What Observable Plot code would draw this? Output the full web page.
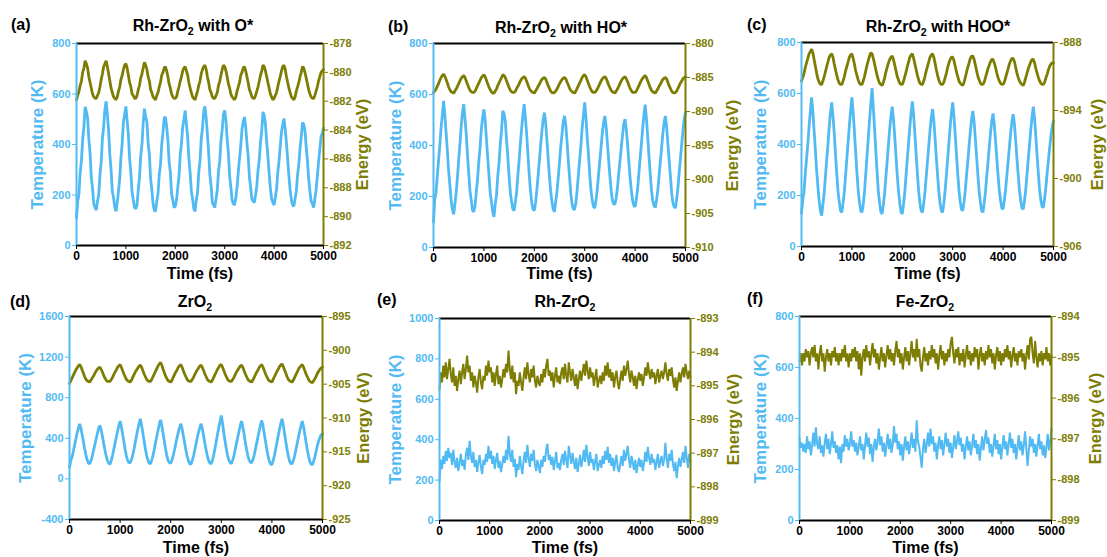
<!DOCTYPE html>
<html><head><meta charset="utf-8">
<script src="https://cdn.jsdelivr.net/npm/d3@7"></script>
<script src="https://cdn.jsdelivr.net/npm/@observablehq/plot@0.6"></script>
<style>
body{margin:0;background:#fff}
#root{position:relative;width:1107px;height:557px;overflow:hidden;background:#fff;font-family:"Liberation Sans",Arial,sans-serif}
#root svg{position:absolute;overflow:visible}
.t{position:absolute;font-weight:bold;font-size:16px;white-space:nowrap;transform:translate(-50%,-50%);line-height:1;color:#000}
.t span.s{font-size:0.66em;position:relative;top:0.35em}
.lab{position:absolute;font-weight:bold;font-size:16px;transform:translate(0,-50%);line-height:1;color:#000}
</style></head><body><div id="root"></div>
<script>
// ---------- data ----------
const timeStepFs = 25;
const timeTicks = [0, 1000, 2000, 3000, 4000, 5000];
const panelLetters = ["(a)", "(b)", "(c)", "(d)", "(e)", "(f)"];
const panelTitles = ["Rh-ZrO2 with O*", "Rh-ZrO2 with HO*", "Rh-ZrO2 with HOO*", "ZrO2", "Rh-ZrO2", "Fe-ZrO2"];
const tempDomains = [[0, 800], [0, 800], [0, 800], [-400, 1600], [0, 1000], [0, 800]];
const tempTicks = [
  [0, 200, 400, 600, 800], [0, 200, 400, 600, 800], [0, 200, 400, 600, 800],
  [-400, 0, 400, 800, 1200, 1600], [0, 200, 400, 600, 800, 1000], [0, 200, 400, 600, 800]
];
const energyDomains = [[-892, -878], [-910, -880], [-906, -888], [-925, -895], [-899, -893], [-899, -894]];
const energyTicks = [
  [-892, -890, -888, -886, -884, -882, -880, -878],
  [-910, -905, -900, -895, -890, -885, -880],
  [-906, -900, -894, -888],
  [-925, -920, -915, -910, -905, -900, -895],
  [-899, -898, -897, -896, -895, -894, -893],
  [-899, -898, -897, -896, -895, -894]
];

const tempA = [
110,175,205,290,335,420,470,549,530,505,420,365,270,225,165,150,
140,175,200,280,330,425,470,540,571,520,455,360,300,215,190,150,
135,170,215,265,350,405,490,520,551,495,440,345,290,210,180,150,
145,160,220,270,355,400,485,542,510,490,405,360,265,220,165,140,
135,175,205,280,320,400,445,505,509,470,420,330,290,205,180,150,
155,180,230,275,360,405,470,500,535,480,430,345,290,215,185,145,
135,180,210,290,335,420,465,530,551,505,440,370,280,235,170,160,
150,185,220,295,335,415,460,520,535,495,420,365,275,230,180,165,
160,190,230,290,345,395,460,490,509,470,405,355,270,230,185,175,
170,200,235,300,340,410,455,529,515,480,410,350,285,225,185,170,
160,190,225,290,335,395,450,480,503,460,405,340,275,220,180,160,
155,185,215,280,320,385,430,487,480,455,390,335,265,215,175,165,
150,185,220,275,330,380,430,445,465];
const energyA = [
-881.9,-881.6,-881.3,-880.9,-880.6,-880.0,-879.7,-879.2,-879.4,-879.7,-880.3,-880.7,-881.1,-881.5,-881.7,-881.8,
-881.8,-881.6,-881.4,-881.0,-880.5,-880.1,-879.6,-879.4,-879.2,-879.6,-880.1,-880.6,-881.1,-881.4,-881.7,-881.8,
-881.9,-881.7,-881.3,-881.0,-880.5,-880.2,-879.8,-879.5,-879.4,-879.7,-880.2,-880.7,-881.0,-881.5,-881.6,-881.8,
-881.8,-881.6,-881.2,-880.9,-880.4,-880.1,-879.7,-879.3,-879.5,-879.8,-880.3,-880.6,-881.2,-881.4,-881.7,-881.8,
-881.9,-881.6,-881.4,-881.0,-880.7,-880.2,-880.0,-879.7,-879.6,-879.9,-880.3,-880.8,-881.1,-881.5,-881.7,-881.8,
-881.8,-881.7,-881.3,-881.0,-880.6,-880.3,-879.9,-879.7,-879.6,-879.9,-880.2,-880.7,-881.1,-881.4,-881.7,-881.8,
-881.9,-881.6,-881.3,-880.9,-880.6,-880.1,-879.8,-879.6,-879.5,-879.8,-880.3,-880.7,-881.2,-881.4,-881.7,-881.8,
-881.8,-881.6,-881.4,-880.9,-880.6,-880.2,-879.8,-879.5,-879.6,-879.9,-880.3,-880.8,-881.1,-881.5,-881.7,-881.8,
-881.9,-881.7,-881.3,-881.0,-880.7,-880.2,-880.0,-879.7,-879.6,-879.9,-880.3,-880.7,-881.2,-881.4,-881.7,-881.8,
-881.8,-881.6,-881.3,-881.0,-880.6,-880.2,-879.9,-879.5,-879.6,-879.9,-880.3,-880.7,-881.1,-881.5,-881.7,-881.9,
-881.8,-881.6,-881.4,-881.0,-880.6,-880.3,-879.9,-879.6,-879.5,-879.8,-880.3,-880.7,-881.1,-881.4,-881.7,-881.8,
-881.9,-881.7,-881.3,-881.0,-880.7,-880.3,-880.0,-879.6,-879.7,-880.0,-880.4,-880.8,-881.2,-881.5,-881.7,-881.8,
-881.8,-881.6,-881.3,-881.0,-880.6,-880.3,-880.0,-879.9,-879.8];

const tempB = [
100,190,215,280,340,400,470,520,575,520,450,380,300,245,185,150,
130,170,215,275,345,405,475,530,562,505,445,360,290,220,185,145,
140,165,220,270,340,395,465,510,542,500,425,355,285,215,180,140,
120,170,205,280,330,405,460,536,525,495,420,355,280,215,180,150,
145,180,220,285,345,410,470,520,562,505,440,360,285,220,175,150,
145,175,225,280,340,400,455,500,529,490,425,350,280,220,180,150,
140,180,220,275,335,395,445,495,516,480,415,340,275,210,170,150,
150,175,225,285,345,400,470,520,569,510,430,365,285,225,185,160,
155,185,230,285,340,395,450,490,516,475,410,345,280,225,185,170,
170,195,235,290,340,390,440,485,503,465,405,340,275,225,185,165,
160,190,230,290,350,405,465,520,560,505,435,360,290,225,185,165,
157,185,225,280,335,390,445,490,516,475,410,345,280,215,175,160,
155,190,235,295,350,405,460,505,529];
const energyB = [
-887.2,-887.0,-886.7,-886.3,-885.9,-885.4,-885.0,-884.7,-884.5,-884.8,-885.3,-885.8,-886.4,-886.8,-887.1,-887.2,
-887.3,-887.0,-886.7,-886.3,-885.9,-885.5,-885.1,-884.9,-884.7,-885.0,-885.5,-886.0,-886.5,-886.9,-887.1,-887.2,
-887.2,-887.0,-886.6,-886.2,-885.8,-885.4,-885.0,-884.8,-884.6,-884.9,-885.4,-885.9,-886.4,-886.8,-887.1,-887.3,
-887.3,-887.0,-886.7,-886.2,-885.8,-885.4,-885.0,-884.6,-884.7,-885.0,-885.5,-886.0,-886.5,-886.9,-887.1,-887.2,
-887.2,-887.0,-886.6,-886.3,-885.9,-885.5,-885.2,-885.0,-884.9,-885.1,-885.6,-886.1,-886.6,-886.9,-887.1,-887.2,
-887.3,-887.0,-886.7,-886.3,-886.0,-885.6,-885.3,-885.1,-885.0,-885.2,-885.7,-886.2,-886.6,-887.0,-887.2,-887.3,
-887.2,-887.0,-886.7,-886.3,-885.9,-885.6,-885.3,-885.1,-885.0,-885.2,-885.7,-886.1,-886.6,-886.9,-887.1,-887.2,
-887.3,-887.0,-886.6,-886.2,-885.8,-885.4,-885.0,-884.7,-884.6,-884.9,-885.4,-885.9,-886.4,-886.8,-887.1,-887.2,
-887.2,-887.0,-886.7,-886.3,-885.9,-885.5,-885.2,-885.0,-884.9,-885.1,-885.6,-886.1,-886.5,-886.9,-887.1,-887.2,
-887.3,-887.0,-886.7,-886.3,-885.9,-885.5,-885.2,-885.0,-884.9,-885.2,-885.6,-886.1,-886.6,-886.9,-887.2,-887.2,
-887.2,-887.0,-886.6,-886.2,-885.8,-885.4,-885.1,-884.9,-884.7,-885.0,-885.5,-886.0,-886.5,-886.9,-887.1,-887.2,
-887.3,-887.0,-886.7,-886.3,-886.0,-885.6,-885.3,-885.1,-885.0,-885.2,-885.7,-886.2,-886.6,-887.0,-887.2,-887.3,
-887.2,-887.0,-886.6,-886.2,-885.8,-885.5,-885.2,-885.0,-884.9];

const tempC = [
130,185,215,285,345,400,470,530,585,530,455,380,300,235,180,140,
121,165,210,275,340,400,470,525,565,510,445,360,285,215,175,140,
134,170,215,280,345,410,475,535,585,525,450,370,290,220,175,140,
134,165,215,285,355,425,495,560,621,545,460,375,290,215,170,135,
128,165,210,275,335,400,460,510,548,500,430,355,280,215,170,135,
128,165,215,280,345,405,470,525,569,515,440,360,285,215,170,140,
134,170,215,275,335,395,455,505,539,495,425,350,280,215,170,140,
134,170,220,280,345,405,470,525,565,510,440,360,285,220,175,145,
141,175,220,280,335,395,450,500,532,490,420,350,280,215,175,140,
134,170,215,275,330,390,445,490,522,480,415,345,280,220,180,150,
147,180,225,280,335,390,445,490,519,480,415,345,280,220,180,150,
147,180,225,285,345,400,460,510,548,500,430,355,285,220,180,155,
154,190,235,290,340,390,435,470,493];
const energyC = [
-891.4,-891.1,-890.7,-890.2,-889.8,-889.4,-889.0,-888.8,-888.6,-888.9,-889.5,-890.1,-890.7,-891.2,-891.5,-891.7,
-891.7,-891.4,-891.0,-890.6,-890.1,-889.7,-889.3,-889.1,-889.0,-889.3,-889.9,-890.4,-890.9,-891.3,-891.6,-891.7,
-891.7,-891.4,-891.0,-890.5,-890.1,-889.7,-889.3,-889.1,-889.0,-889.4,-889.9,-890.5,-890.9,-891.3,-891.6,-891.7,
-891.7,-891.4,-891.0,-890.5,-890.0,-889.6,-889.2,-888.9,-889.0,-889.4,-889.9,-890.4,-890.9,-891.3,-891.6,-891.7,
-891.8,-891.5,-891.1,-890.6,-890.2,-889.8,-889.5,-889.3,-889.2,-889.5,-890.0,-890.5,-891.0,-891.3,-891.6,-891.7,
-891.7,-891.4,-891.0,-890.6,-890.1,-889.7,-889.3,-889.1,-889.0,-889.4,-889.9,-890.4,-890.9,-891.3,-891.6,-891.7,
-891.7,-891.4,-891.0,-890.5,-890.1,-889.7,-889.3,-889.1,-889.0,-889.3,-889.8,-890.4,-890.9,-891.3,-891.6,-891.7,
-891.7,-891.5,-891.1,-890.7,-890.2,-889.8,-889.5,-889.3,-889.3,-889.6,-890.1,-890.6,-891.0,-891.4,-891.6,-891.7,
-891.8,-891.5,-891.1,-890.6,-890.2,-889.8,-889.4,-889.2,-889.2,-889.5,-890.0,-890.5,-891.0,-891.3,-891.6,-891.7,
-891.7,-891.5,-891.1,-890.7,-890.3,-890.0,-889.7,-889.5,-889.5,-889.8,-890.2,-890.7,-891.1,-891.4,-891.6,-891.7,
-891.7,-891.5,-891.1,-890.7,-890.3,-889.9,-889.6,-889.4,-889.4,-889.7,-890.2,-890.7,-891.1,-891.4,-891.6,-891.7,
-891.8,-891.5,-891.1,-890.7,-890.3,-890.0,-889.7,-889.5,-889.5,-889.8,-890.3,-890.7,-891.1,-891.4,-891.6,-891.7,
-891.7,-891.5,-891.1,-890.8,-890.4,-890.1,-889.9,-889.8,-889.8];

const tempD = [
116,180,215,270,330,390,450,500,543,500,435,365,295,235,185,155,
150,180,225,280,335,390,445,495,526,485,420,350,285,225,180,155,
145,180,230,290,350,410,470,525,569,515,440,365,290,225,180,160,
160,190,235,295,360,425,490,545,592,530,450,370,295,230,185,155,
150,185,230,290,355,420,480,535,582,525,445,365,290,225,180,160,
155,185,230,285,345,405,460,505,543,495,425,355,285,225,180,150,
145,180,225,285,345,405,460,505,543,495,425,350,285,225,180,155,
150,185,235,300,370,440,505,565,625,545,455,370,295,230,185,160,
150,185,230,290,350,410,470,525,569,515,440,360,290,230,185,165,
160,190,235,295,355,415,475,530,576,520,445,365,290,225,175,145,
140,180,230,295,360,425,490,545,592,530,450,365,290,225,175,150,
150,185,230,290,350,410,470,525,569,515,440,360,285,220,170,145,
140,175,220,275,330,375,410,435,444];
const energyD = [
-904.9,-904.5,-904.1,-903.7,-903.3,-902.9,-902.6,-902.3,-902.1,-902.4,-902.9,-903.4,-903.9,-904.3,-904.5,-904.6,
-904.7,-904.4,-904.1,-903.8,-903.4,-903.1,-902.8,-902.6,-902.5,-902.8,-903.2,-903.7,-904.1,-904.4,-904.6,-904.6,
-904.6,-904.3,-904.0,-903.6,-903.2,-902.9,-902.5,-902.3,-902.1,-902.5,-903.0,-903.5,-903.9,-904.3,-904.5,-904.6,
-904.7,-904.4,-904.0,-903.6,-903.2,-902.9,-902.6,-902.3,-902.2,-902.5,-903.0,-903.5,-903.9,-904.3,-904.5,-904.6,
-904.6,-904.3,-903.9,-903.5,-903.1,-902.7,-902.3,-902.0,-901.8,-902.2,-902.8,-903.3,-903.8,-904.2,-904.5,-904.6,
-904.7,-904.4,-904.0,-903.6,-903.2,-902.9,-902.5,-902.3,-902.1,-902.5,-903.0,-903.5,-903.9,-904.3,-904.5,-904.6,
-904.6,-904.3,-904.0,-903.6,-903.2,-902.9,-902.6,-902.3,-902.2,-902.5,-903.0,-903.5,-903.9,-904.3,-904.5,-904.6,
-904.7,-904.4,-904.0,-903.6,-903.2,-902.8,-902.5,-902.2,-902.1,-902.5,-903.0,-903.5,-903.9,-904.3,-904.5,-904.6,
-904.6,-904.3,-904.0,-903.6,-903.2,-902.9,-902.6,-902.3,-902.2,-902.5,-903.0,-903.5,-903.9,-904.3,-904.5,-904.6,
-904.7,-904.4,-904.0,-903.6,-903.2,-902.9,-902.5,-902.3,-902.1,-902.5,-903.0,-903.5,-903.9,-904.3,-904.5,-904.6,
-904.7,-904.3,-903.9,-903.5,-903.1,-902.8,-902.4,-902.2,-902.0,-902.4,-902.9,-903.4,-903.9,-904.3,-904.5,-904.6,
-904.7,-904.4,-904.0,-903.6,-903.2,-902.8,-902.5,-902.3,-902.1,-902.5,-903.0,-903.5,-903.9,-904.3,-904.6,-904.7,
-904.8,-904.5,-904.2,-903.8,-903.4,-903.1,-902.8,-902.6,-902.5];

const tempE = [
195,300,255,320,280,345,295,360,310,335,275,350,290,260,310,245,
285,330,270,300,250,325,360,300,395,320,285,340,265,300,240,290,
325,265,230,300,275,330,290,370,305,345,280,320,255,300,335,260,
295,240,275,320,285,350,300,419,330,290,350,265,305,215,280,250,
320,270,230,295,340,285,375,310,265,330,295,350,280,245,300,270,
235,300,265,320,290,350,380,300,325,275,315,250,295,340,260,285,
250,300,330,275,345,300,260,370,320,280,335,290,255,310,240,280,
325,265,300,350,290,375,315,270,340,285,305,250,290,330,245,275,
300,260,320,280,345,300,365,285,330,270,310,245,290,325,260,240,
280,320,270,350,295,330,370,300,260,320,285,250,300,235,275,310,
265,300,245,285,340,290,365,310,275,330,285,305,250,290,330,260,
295,320,270,300,385,305,260,330,295,350,280,245,290,210,270,310,
265,300,340,285,370,310,260,330,290];
const energyE = [
-895.1,-894.6,-894.9,-894.4,-894.75,-894.3,-894.8,-894.5,-894.2,-894.65,-894.9,-894.45,-895.0,-894.7,-895.15,-894.8,
-894.55,-894.95,-894.6,-894.35,-894.8,-894.5,-894.1,-894.6,-894.4,-894.85,-894.6,-895.05,-894.7,-894.9,-895.2,-894.75,
-894.5,-894.9,-895.1,-894.7,-894.85,-894.4,-894.7,-894.25,-894.6,-894.45,-894.9,-894.6,-895.0,-894.65,-894.4,-894.95,
-894.7,-895.05,-894.8,-894.5,-894.75,-894.35,-894.6,-893.95,-894.5,-894.8,-894.4,-894.9,-894.6,-895.25,-894.85,-895.0,
-894.6,-894.9,-895.15,-894.75,-894.45,-894.8,-894.3,-894.65,-894.9,-894.5,-894.75,-894.4,-894.85,-895.05,-894.7,-894.9,
-895.0,-894.65,-894.9,-894.5,-894.75,-894.4,-894.2,-894.7,-894.55,-894.85,-894.6,-895.05,-894.7,-894.45,-894.9,-894.7,
-894.95,-894.6,-894.45,-894.8,-894.35,-894.7,-894.9,-894.3,-894.6,-894.85,-894.5,-894.75,-895.0,-894.65,-895.1,-894.8,
-894.55,-894.85,-894.6,-894.35,-894.7,-894.25,-894.55,-894.8,-894.45,-894.75,-894.6,-895.0,-894.75,-894.5,-895.05,-894.85,
-894.7,-894.95,-894.6,-894.85,-894.4,-894.7,-894.3,-894.75,-894.5,-894.85,-894.6,-895.05,-894.75,-894.55,-894.9,-895.1,
-894.8,-894.55,-894.85,-894.4,-894.7,-894.5,-894.25,-894.65,-894.9,-894.55,-894.75,-895.0,-894.7,-895.1,-894.8,-894.6,
-894.85,-894.65,-895.0,-894.75,-894.45,-894.7,-894.3,-894.6,-894.8,-894.5,-894.75,-894.6,-894.95,-894.7,-894.5,-894.9,
-894.7,-894.55,-894.8,-894.6,-894.3,-894.65,-894.85,-894.5,-894.7,-894.45,-894.8,-895.05,-894.75,-895.15,-894.85,-894.6,
-894.9,-894.65,-894.45,-894.75,-894.35,-894.6,-894.8,-894.55,-894.75];

const tempF = [
320,285,305,270,300,265,330,280,310,255,295,345,290,365,300,280,
330,265,295,250,305,340,280,320,260,300,350,285,310,265,295,240,
290,225,300,270,335,290,320,275,300,350,290,315,270,305,255,290,
330,275,300,240,295,345,290,325,260,300,230,290,320,275,310,360,
295,330,270,305,250,295,340,280,320,265,300,370,305,340,280,310,
255,300,235,290,330,275,310,260,300,345,285,320,270,393,310,290,
250,207,280,320,265,300,345,290,360,300,330,270,305,240,295,330,
280,315,255,300,345,290,320,265,305,245,290,335,280,310,350,295,
325,270,300,240,290,330,275,310,255,295,340,285,315,260,300,235,
285,330,275,315,355,300,325,265,300,250,295,340,280,315,260,300,
240,290,335,280,310,255,300,345,285,320,265,300,240,290,335,275,
310,255,295,350,285,214,275,330,290,320,265,300,250,295,340,280,
310,255,295,245,290,340,275,310,360];
const energyF = [
-895.1,-894.9,-895.2,-894.9,-895.1,-894.8,-895.0,-894.85,-895.2,-894.9,-894.75,-895.0,-894.7,-895.1,-894.9,-895.3,
-894.9,-894.7,-895.1,-894.9,-895.35,-895.0,-894.8,-895.1,-894.9,-895.2,-894.85,-895.0,-894.75,-895.1,-894.9,-895.2,
-894.9,-895.1,-894.8,-895.0,-894.7,-895.1,-894.9,-895.25,-894.9,-895.1,-894.8,-895.0,-894.75,-895.1,-894.85,-895.3,
-894.9,-895.45,-895.0,-894.8,-895.1,-894.7,-895.0,-894.85,-895.2,-894.9,-894.65,-895.0,-894.8,-895.15,-894.9,-895.3,
-895.0,-894.75,-895.1,-894.9,-895.25,-894.95,-894.7,-895.05,-894.8,-895.1,-894.9,-895.2,-894.85,-894.6,-895.0,-894.8,
-895.15,-894.9,-895.3,-895.0,-894.75,-895.1,-894.85,-895.2,-894.9,-894.6,-895.0,-894.8,-895.1,-894.55,-895.0,-894.8,
-895.2,-895.35,-895.0,-894.75,-895.1,-894.9,-895.2,-894.85,-895.05,-894.7,-895.0,-894.8,-895.15,-894.9,-895.3,-894.95,
-894.7,-895.05,-894.85,-895.2,-894.9,-895.1,-894.8,-895.0,-894.65,-894.5,-894.9,-895.15,-894.8,-895.0,-894.75,-895.2,
-894.9,-895.1,-894.8,-895.25,-894.95,-894.7,-895.05,-894.85,-895.2,-894.9,-895.1,-894.75,-895.0,-894.8,-895.3,-894.95,
-894.75,-895.1,-894.9,-895.2,-894.85,-895.05,-894.7,-895.0,-894.8,-895.15,-894.9,-895.3,-894.95,-894.75,-895.1,-894.85,
-895.2,-894.9,-895.1,-894.8,-895.0,-894.7,-895.05,-894.85,-895.25,-894.95,-894.75,-895.1,-894.9,-895.2,-894.85,-895.0,
-894.8,-895.1,-894.9,-895.3,-894.95,-894.7,-895.05,-894.55,-894.5,-894.9,-895.15,-894.6,-895.0,-895.25,-894.9,-895.1,
-894.85,-895.2,-894.9,-895.05,-894.75,-895.1,-894.9,-895.2,-894.95];

const tempSeries = [tempA, tempB, tempC, tempD, tempE, tempF];
const energySeries = [energyA, energyB, energyC, energyD, energyE, energyF];

// ---------- layout & style ----------
const BLUE = "#52BAF2", OLIVE = "#7D7D04";
const FONT = '"Liberation Sans", Arial, sans-serif';
const boxes = [
  {left: 0,   top: 0,   w: 369, h: 280, ml: 76, mr: 46, mt: 43, mb: 35, tOff: 39, eOff: 39, xOff: 28, sw: 2.8},
  {left: 369, top: 0,   w: 369, h: 280, ml: 64, mr: 53, mt: 43, mb: 33, tOff: 38, eOff: 47, xOff: 26, sw: 2.8},
  {left: 738, top: 0,   w: 369, h: 280, ml: 63, mr: 54, mt: 42, mb: 34, tOff: 41, eOff: 44, xOff: 27, sw: 2.8},
  {left: 0,   top: 280, w: 369, h: 277, ml: 69, mr: 47, mt: 36, mb: 38, tOff: 44, eOff: 41, xOff: 28, sw: 2.8},
  {left: 369, top: 280, w: 369, h: 277, ml: 70, mr: 48, mt: 38, mb: 37, tOff: 44, eOff: 43, xOff: 27, sw: 2.0},
  {left: 738, top: 280, w: 369, h: 277, ml: 61, mr: 56, mt: 36, mb: 37, tOff: 39, eOff: 44, xOff: 27, sw: 2.0}
];
const titlePos = [[193, 26], [561, 28], [938, 27], [195, 302], [565, 302], [925, 302]];
const letterPos = [[11, 25], [388, 27], [747, 25], [10, 302], [377, 300], [747, 299]];

[tempSeries, energySeries].flat().forEach((s, i) => {
  if (s.length !== 201) throw new Error("series " + i + " has " + s.length + " values");
});

const root = document.getElementById("root");

for (let p = 0; p < 6; p++) {
  const b = boxes[p];
  const [t0, t1] = tempDomains[p];
  const [e0, e1] = energyDomains[p];
  const toT = e => t0 + (e - e0) / (e1 - e0) * (t1 - t0);
  const toE = t => e0 + (t - t0) / (t1 - t0) * (e1 - e0);
  const tData = tempSeries[p].map((v, i) => ({time: i * timeStepFs, v}));
  const eData = energySeries[p].map((v, i) => ({time: i * timeStepFs, v: toT(v)}));
  const labelStyle = {fontSize: 17, fontWeight: "bold", textAnchor: "middle", lineAnchor: "middle"};

  const svg = Plot.plot({
    width: b.w, height: b.h,
    marginLeft: b.ml, marginRight: b.mr, marginTop: b.mt, marginBottom: b.mb,
    style: {background: "transparent", overflow: "visible", fontFamily: FONT, maxWidth: "none"},
    x: {domain: [0, 5000]},
    y: {domain: [t0, t1]},
    marks: [
      Plot.line(tData, {x: "time", y: "v", stroke: BLUE, strokeWidth: b.sw, strokeLinejoin: "miter"}),
      Plot.line(eData, {x: "time", y: "v", stroke: OLIVE, strokeWidth: b.sw, strokeLinejoin: "miter"}),
      Plot.ruleY([t0, t1], {stroke: "black", strokeWidth: 2}),
      Plot.ruleX([0], {stroke: BLUE, strokeWidth: 2}),
      Plot.ruleX([5000], {stroke: OLIVE, strokeWidth: 2}),
      Plot.axisX(timeTicks, {tickSize: 4, tickPadding: 2, stroke: "black", fill: "black", fontSize: 12, fontWeight: "bold",
        tickFormat: d => String(d), label: null}),
      Plot.axisY(tempTicks[p], {anchor: "left", tickSize: 4, tickPadding: 2, stroke: BLUE, fill: BLUE, fontSize: 11, fontWeight: "bold",
        tickFormat: d => String(d), label: null}),
      Plot.axisY(energyTicks[p].map(toT), {anchor: "right", tickSize: 4, tickPadding: 2, stroke: OLIVE, fill: OLIVE, fontSize: 11, fontWeight: "bold",
        tickFormat: d => String(Math.round(toE(d))), label: null}),
      Plot.text(["Temperature (K)"], {frameAnchor: "left", rotate: -90, dx: -b.tOff, fill: BLUE, ...labelStyle}),
      Plot.text(["Energy (eV)"], {frameAnchor: "right", rotate: -90, dx: b.eOff, fill: OLIVE, ...labelStyle, fontSize: 16.5}),
      Plot.text(["Time (fs)"], {frameAnchor: "bottom", dy: b.xOff, fill: "black", ...labelStyle, fontSize: 16})
    ]
  });
  svg.style.left = b.left + "px";
  svg.style.top = b.top + "px";
  root.appendChild(svg);

  const title = document.createElement("div");
  title.className = "t";
  title.style.left = titlePos[p][0] + "px";
  title.style.top = titlePos[p][1] + "px";
  title.innerHTML = panelTitles[p].replace("ZrO2", 'ZrO<span class="s">2</span>');
  root.appendChild(title);

  const letter = document.createElement("div");
  letter.className = "lab";
  letter.style.left = letterPos[p][0] + "px";
  letter.style.top = letterPos[p][1] + "px";
  letter.textContent = panelLetters[p];
  root.appendChild(letter);
}
</script>
</body></html>
